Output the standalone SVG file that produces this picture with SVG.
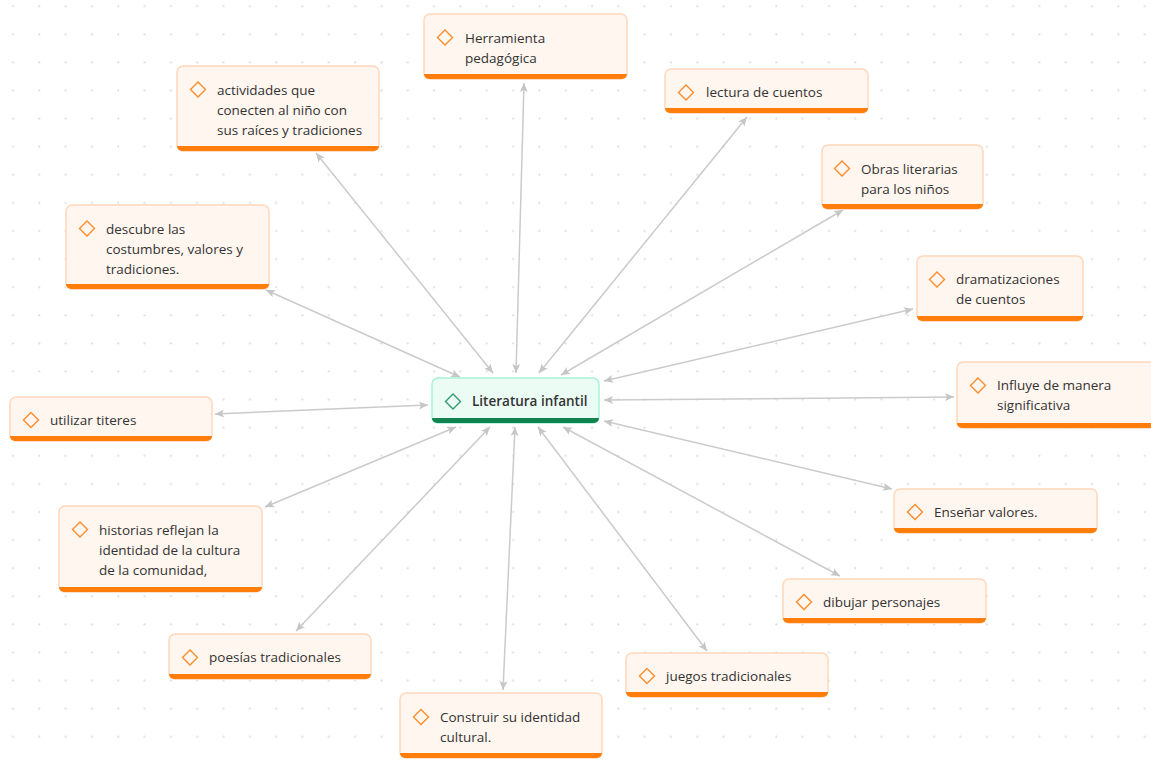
<svg xmlns="http://www.w3.org/2000/svg" width="1151" height="763" viewBox="0 0 1151 763">
<style>
.nb{fill:#fff6ef;stroke:#ffd8bb;stroke-width:1.5}
.bar{fill:#ff7d0a}
.dm{fill:none;stroke:#ff8b2b;stroke-width:1.4}
.t{font-family:"Open Sans","Noto Sans",sans-serif;font-size:13.5px;font-weight:500;fill:#333333}
.cb{fill:#ebfcf5;stroke:#a9f2d8;stroke-width:1.5}
.cbar{fill:#11834f}
.cdm{fill:none;stroke:#2f9a6b;stroke-width:1.4}
.ct{font-weight:600}
.ln{stroke:#cbcbcb;stroke-width:1.5;fill:none;marker-start:url(#ah);marker-end:url(#ah)}
</style>
<defs>
<pattern id="grid" patternUnits="userSpaceOnUse" x="0" y="0" width="26.32" height="28.1">
<circle cx="13" cy="6.2" r="1.1" fill="#dcdcdc"/>
</pattern>
<marker id="ah" markerUnits="userSpaceOnUse" viewBox="0 0 10 10" refX="9.5" refY="5" markerWidth="10" markerHeight="10" orient="auto-start-reverse">
<path d="M0.5,1 L9.5,5 L0.5,9 L2.5,5 z" fill="#c6c6c6"/>
</marker>
</defs>
<rect width="1151" height="763" fill="#ffffff"/>
<rect width="1151" height="763" fill="url(#grid)"/>

<g id="connectors">
<line class="ln" x1="516" y1="373" x2="524" y2="83"/>
<line class="ln" x1="539" y1="373" x2="747" y2="117"/>
<line class="ln" x1="493" y1="373" x2="316" y2="153"/>
<line class="ln" x1="561" y1="375" x2="843" y2="210"/>
<line class="ln" x1="460" y1="377" x2="266" y2="290"/>
<line class="ln" x1="604" y1="381" x2="913" y2="309"/>
<line class="ln" x1="604" y1="400" x2="954" y2="397"/>
<line class="ln" x1="428" y1="405" x2="215" y2="414"/>
<line class="ln" x1="604" y1="421" x2="892" y2="489"/>
<line class="ln" x1="456" y1="427" x2="265" y2="507"/>
<line class="ln" x1="563" y1="427" x2="840" y2="576"/>
<line class="ln" x1="490" y1="427" x2="296" y2="631"/>
<line class="ln" x1="538" y1="427" x2="707" y2="651"/>
<line class="ln" x1="515" y1="427" x2="503" y2="690"/>
</g>

<g id="n-center" transform="translate(432,378)">
<rect class="cb" x="0" y="0" width="167" height="45" rx="6"/>
<path class="cbar" d="M0 40 H167 A5 5 0 0 1 162 45 H5 A5 5 0 0 1 0 40 Z"/>
<path class="cdm" d="M21 16 l7.5 7.5 -7.5 7.5 -7.5 -7.5z"/>
<text class="t ct" x="40" y="28">Literatura infantil</text>
</g>

<g id="n-herramienta" transform="translate(424,14)">
<rect class="nb" x="0" y="0" width="203" height="65" rx="6"/>
<path class="bar" d="M0 60 H203 A5 5 0 0 1 198 65 H5 A5 5 0 0 1 0 60 Z"/>
<path class="dm" d="M21 16 l7.5 7.5 -7.5 7.5 -7.5 -7.5z"/>
<text class="t" x="41" y="28.5">Herramienta</text>
<text class="t" x="41" y="48.5">pedagógica</text>
</g>

<g id="n-lectura" transform="translate(665,69)">
<rect class="nb" x="0" y="0" width="203" height="44" rx="6"/>
<path class="bar" d="M0 39 H203 A5 5 0 0 1 198 44 H5 A5 5 0 0 1 0 39 Z"/>
<path class="dm" d="M21 16 l7.5 7.5 -7.5 7.5 -7.5 -7.5z"/>
<text class="t" x="41" y="28">lectura de cuentos</text>
</g>

<g id="n-actividades" transform="translate(177,66)">
<rect class="nb" x="0" y="0" width="202" height="85" rx="6"/>
<path class="bar" d="M0 80 H202 A5 5 0 0 1 197 85 H5 A5 5 0 0 1 0 80 Z"/>
<path class="dm" d="M21 16 l7.5 7.5 -7.5 7.5 -7.5 -7.5z"/>
<text class="t" x="40" y="28.5">actividades que</text>
<text class="t" x="40" y="48.5">conecten al niño con</text>
<text class="t" x="40" y="68.5">sus raíces y tradiciones</text>
</g>

<g id="n-obras" transform="translate(822,145)">
<rect class="nb" x="0" y="0" width="161" height="64" rx="6"/>
<path class="bar" d="M0 59 H161 A5 5 0 0 1 156 64 H5 A5 5 0 0 1 0 59 Z"/>
<path class="dm" d="M20 16 l7.5 7.5 -7.5 7.5 -7.5 -7.5z"/>
<text class="t" x="39" y="28.5">Obras literarias</text>
<text class="t" x="39" y="48.5">para los niños</text>
</g>

<g id="n-descubre" transform="translate(66,205)">
<rect class="nb" x="0" y="0" width="203" height="84" rx="6"/>
<path class="bar" d="M0 79 H203 A5 5 0 0 1 198 84 H5 A5 5 0 0 1 0 79 Z"/>
<path class="dm" d="M21 16 l7.5 7.5 -7.5 7.5 -7.5 -7.5z"/>
<text class="t" x="40" y="28.5">descubre las</text>
<text class="t" x="40" y="48.5">costumbres, valores y</text>
<text class="t" x="40" y="68.5">tradiciones.</text>
</g>

<g id="n-dramatizaciones" transform="translate(917,256)">
<rect class="nb" x="0" y="0" width="166" height="65" rx="6"/>
<path class="bar" d="M0 60 H166 A5 5 0 0 1 161 65 H5 A5 5 0 0 1 0 60 Z"/>
<path class="dm" d="M20 16 l7.5 7.5 -7.5 7.5 -7.5 -7.5z"/>
<text class="t" x="39" y="28">dramatizaciones</text>
<text class="t" x="39" y="48">de cuentos</text>
</g>

<g id="n-influye" transform="translate(957,362)">
<rect class="nb" x="0" y="0" width="203" height="66" rx="6"/>
<path class="bar" d="M0 61 H203 A5 5 0 0 1 198 66 H5 A5 5 0 0 1 0 61 Z"/>
<path class="dm" d="M21 16 l7.5 7.5 -7.5 7.5 -7.5 -7.5z"/>
<text class="t" x="40" y="28">Influye de manera</text>
<text class="t" x="40" y="48">significativa</text>
</g>

<g id="n-utilizar" transform="translate(10,397)">
<rect class="nb" x="0" y="0" width="202" height="44" rx="6"/>
<path class="bar" d="M0 39 H202 A5 5 0 0 1 197 44 H5 A5 5 0 0 1 0 39 Z"/>
<path class="dm" d="M21 15.5 l7.5 7.5 -7.5 7.5 -7.5 -7.5z"/>
<text class="t" x="40" y="27.5">utilizar titeres</text>
</g>

<g id="n-ensenar" transform="translate(894,489)">
<rect class="nb" x="0" y="0" width="203" height="44" rx="6"/>
<path class="bar" d="M0 39 H203 A5 5 0 0 1 198 44 H5 A5 5 0 0 1 0 39 Z"/>
<path class="dm" d="M21 15.5 l7.5 7.5 -7.5 7.5 -7.5 -7.5z"/>
<text class="t" x="40" y="27.5">Enseñar valores.</text>
</g>

<g id="n-historias" transform="translate(59,506)">
<rect class="nb" x="0" y="0" width="203" height="86" rx="6"/>
<path class="bar" d="M0 81 H203 A5 5 0 0 1 198 86 H5 A5 5 0 0 1 0 81 Z"/>
<path class="dm" d="M21 16 l7.5 7.5 -7.5 7.5 -7.5 -7.5z"/>
<text class="t" x="40" y="28.5">historias reflejan la</text>
<text class="t" x="40" y="48.5">identidad de la cultura</text>
<text class="t" x="40" y="68.5">de la comunidad,</text>
</g>

<g id="n-dibujar" transform="translate(783,579)">
<rect class="nb" x="0" y="0" width="203" height="44" rx="6"/>
<path class="bar" d="M0 39 H203 A5 5 0 0 1 198 44 H5 A5 5 0 0 1 0 39 Z"/>
<path class="dm" d="M21 15.5 l7.5 7.5 -7.5 7.5 -7.5 -7.5z"/>
<text class="t" x="40" y="27.5">dibujar personajes</text>
</g>

<g id="n-poesias" transform="translate(169,634)">
<rect class="nb" x="0" y="0" width="202" height="45" rx="6"/>
<path class="bar" d="M0 40 H202 A5 5 0 0 1 197 45 H5 A5 5 0 0 1 0 40 Z"/>
<path class="dm" d="M21 16 l7.5 7.5 -7.5 7.5 -7.5 -7.5z"/>
<text class="t" x="40" y="28">poesías tradicionales</text>
</g>

<g id="n-juegos" transform="translate(626,653)">
<rect class="nb" x="0" y="0" width="202" height="44" rx="6"/>
<path class="bar" d="M0 39 H202 A5 5 0 0 1 197 44 H5 A5 5 0 0 1 0 39 Z"/>
<path class="dm" d="M21 15.5 l7.5 7.5 -7.5 7.5 -7.5 -7.5z"/>
<text class="t" x="40" y="27.5">juegos tradicionales</text>
</g>

<g id="n-construir" transform="translate(400,693)">
<rect class="nb" x="0" y="0" width="202" height="65" rx="6"/>
<path class="bar" d="M0 60 H202 A5 5 0 0 1 197 65 H5 A5 5 0 0 1 0 60 Z"/>
<path class="dm" d="M21 16.5 l7.5 7.5 -7.5 7.5 -7.5 -7.5z"/>
<text class="t" x="40" y="29">Construir su identidad</text>
<text class="t" x="40" y="49">cultural.</text>
</g>
</svg>
